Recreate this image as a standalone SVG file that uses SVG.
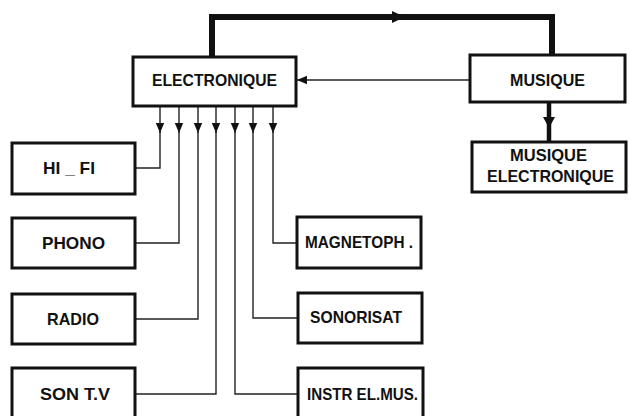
<svg xmlns="http://www.w3.org/2000/svg" width="629" height="416" viewBox="0 0 629 416">
<defs>
<style>
.box{fill:#fff;stroke:#111;stroke-width:3}
.t{font-family:"Liberation Sans",Arial,sans-serif;font-size:16.5px;font-weight:bold;fill:#111}
.thin{fill:none;stroke:#222;stroke-width:1.4}
.thick{fill:none;stroke:#111;stroke-width:6}
.med{fill:none;stroke:#111;stroke-width:4.5}
</style>
<marker id="ah" markerUnits="userSpaceOnUse" markerWidth="10" markerHeight="12" refX="10" refY="5" orient="auto" viewBox="0 0 10 10">
<path d="M0,0.8 L10,5 L0,9.2 Z" fill="#111"/>
</marker>
</defs>
<rect width="629" height="416" fill="#fff"/>
<g id="connectors">
<path class="thick" d="M212,57 V17 H404"/>
<path class="thick" d="M398,17 H552 V55"/>
<path d="M392,11 L405,17 L392,23 Z" fill="#111"/>
<path class="med" d="M549,102 V142"/>
<path d="M543,117 L549,128 L555,117 Z" fill="#111"/>
<path class="thin" d="M470,80 H297" marker-end="url(#ah)"/>
<path class="thin" d="M160,106 V133" marker-end="url(#ah)"/>
<path class="thin" d="M160,132 V168 H135"/>
<path class="thin" d="M179,106 V133" marker-end="url(#ah)"/>
<path class="thin" d="M179,132 V243 H135"/>
<path class="thin" d="M198,106 V133" marker-end="url(#ah)"/>
<path class="thin" d="M198,132 V319 H135"/>
<path class="thin" d="M216,106 V133" marker-end="url(#ah)"/>
<path class="thin" d="M216,132 V394 H135"/>
<path class="thin" d="M235,106 V133" marker-end="url(#ah)"/>
<path class="thin" d="M235,132 V394 H298"/>
<path class="thin" d="M253,106 V133" marker-end="url(#ah)"/>
<path class="thin" d="M253,132 V318 H298"/>
<path class="thin" d="M273,106 V133" marker-end="url(#ah)"/>
<path class="thin" d="M273,132 V243 H297"/>
</g>
<g id="electronique">
<rect class="box" x="133" y="57" width="163" height="49"/>
<text class="t" x="152" y="86" textLength="125" lengthAdjust="spacingAndGlyphs">ELECTRONIQUE</text>
</g>
<g id="musique">
<rect class="box" x="470" y="55" width="155" height="47"/>
<text class="t" x="510" y="86" textLength="75" lengthAdjust="spacingAndGlyphs">MUSIQUE</text>
</g>
<g id="musique-electronique">
<rect class="box" x="472" y="142" width="154" height="50"/>
<text class="t" x="510" y="161" textLength="77" lengthAdjust="spacingAndGlyphs">MUSIQUE</text>
<text class="t" x="487" y="182" textLength="127" lengthAdjust="spacingAndGlyphs">ELECTRONIQUE</text>
</g>
<g id="hifi">
<rect class="box" x="12" y="143" width="123" height="51"/>
<text class="t" x="43" y="174" textLength="52" lengthAdjust="spacingAndGlyphs">HI _ FI</text>
</g>
<g id="phono">
<rect class="box" x="12" y="218" width="123" height="50"/>
<text class="t" x="42" y="249" textLength="63" lengthAdjust="spacingAndGlyphs">PHONO</text>
</g>
<g id="radio">
<rect class="box" x="12" y="294" width="123" height="50"/>
<text class="t" x="47" y="325" textLength="52" lengthAdjust="spacingAndGlyphs">RADIO</text>
</g>
<g id="sontv">
<rect class="box" x="12" y="368" width="123" height="52"/>
<text class="t" x="40" y="400" textLength="70" lengthAdjust="spacingAndGlyphs">SON T.V</text>
</g>
<g id="magnetoph">
<rect class="box" x="297" y="217" width="124" height="51"/>
<text class="t" x="305" y="248" textLength="108" lengthAdjust="spacingAndGlyphs">MAGNETOPH .</text>
</g>
<g id="sonorisat">
<rect class="box" x="298" y="293" width="124" height="50"/>
<text class="t" x="310" y="323" textLength="92" lengthAdjust="spacingAndGlyphs">SONORISAT</text>
</g>
<g id="instr">
<rect class="box" x="298" y="368" width="125" height="52"/>
<text class="t" x="307" y="400" textLength="111" lengthAdjust="spacingAndGlyphs">INSTR EL.MUS.</text>
</g>
</svg>
